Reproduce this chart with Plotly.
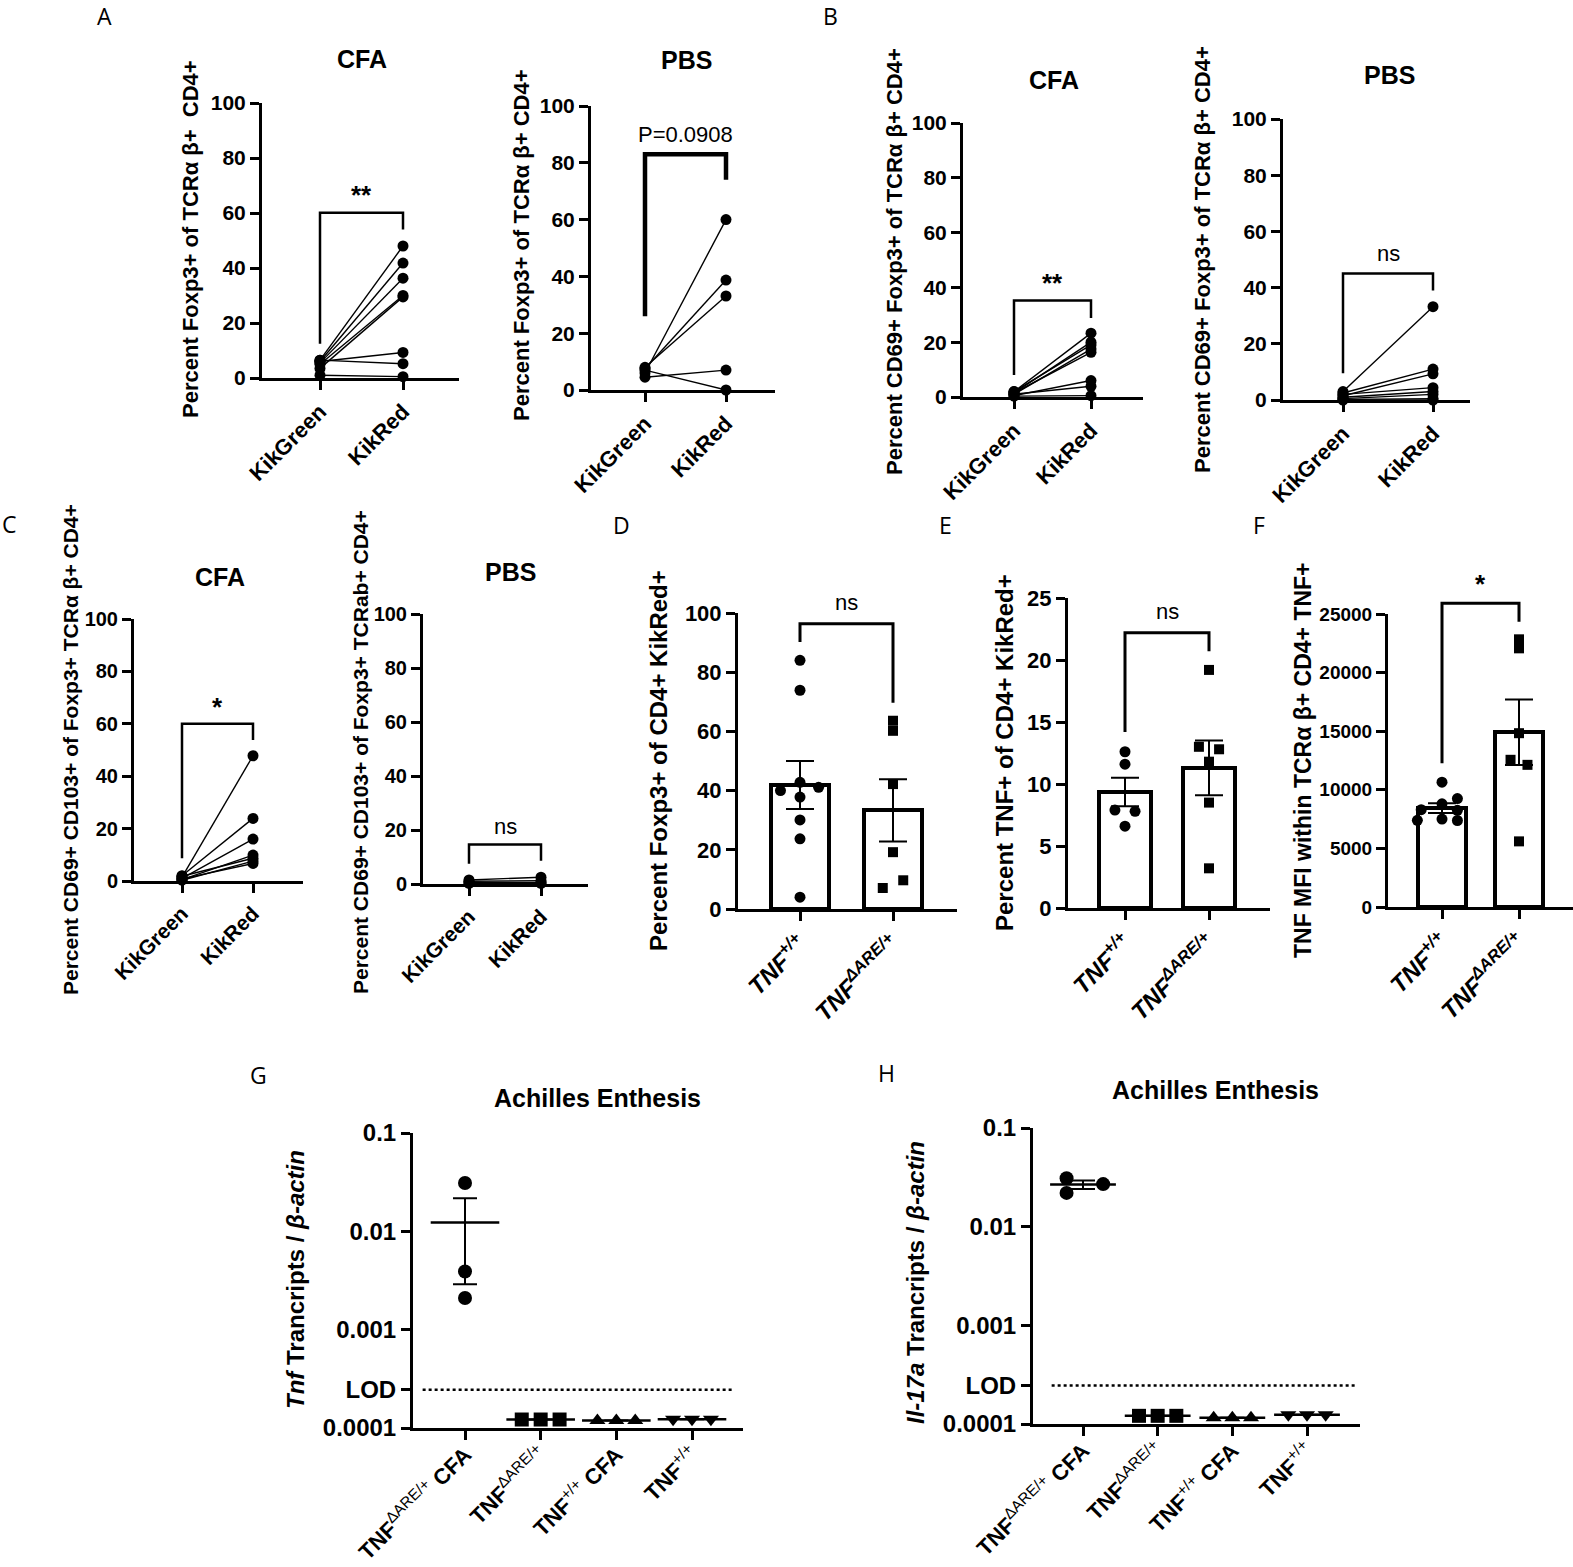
import plotly.graph_objects as go

W, H = 1573, 1567
FONT = "Liberation Sans"

# ---------------- data ----------------
pair_cats = ["KikGreen", "KikRed"]

# A: Percent Foxp3+ of TCRab+ CD4+
a_cfa_green = [6.5, 6.0, 5.5, 5.0, 3.5, 6.0, 6.5, 1.0]
a_cfa_red = [48.0, 41.8, 36.3, 30.0, 29.5, 9.3, 5.2, 0.5]
a_pbs_green = [6.0, 7.5, 8.0, 4.5, 7.0]
a_pbs_red = [60.0, 38.7, 33.1, 7.0, 0.0]

# B: Percent CD69+ Foxp3+ of TCRab+ CD4+
b_cfa_green = [2.0, 1.5, 2.0, 1.0, 1.5, 0.5, 1.0, 0.3]
b_cfa_red = [23.3, 20.0, 19.0, 17.5, 16.3, 6.0, 3.9, 0.5]
b_pbs_green = [3.0, 2.5, 1.5, 2.0, 1.0, 0.5, 0.2, 0.0]
b_pbs_red = [33.2, 11.0, 9.3, 4.4, 3.0, 2.0, 0.5, 0.0]

# C: Percent CD69+ CD103+ of Foxp3+ TCRab+ CD4+
c_cfa_green = [1.5, 2.0, 1.0, 0.5, 1.8, 0.3, 0.8]
c_cfa_red = [47.8, 23.9, 16.0, 9.9, 8.7, 7.6, 6.7]
c_pbs_green = [1.5, 1.0, 0.5, 0.2]
c_pbs_red = [2.5, 1.2, 0.5, 0.2]

bar_cats = ["<i>TNF<sup>+/+</sup></i>", "<i>TNF<sup>ΔARE/+</sup></i>"]

# D: Percent Foxp3+ of CD4+ KikRed+
d_wt = [84.0, 73.9, 40.0, 42.8, 41.1, 37.8, 30.1, 23.7, 4.0]
d_wt_jit = [0, 0, -0.21, 0, 0.2, 0, 0, 0, 0]
d_are = [63.6, 60.2, 42.2, 19.2, 9.7, 7.1]
d_are_jit = [0, 0, 0, 0, 0.11, -0.11]
d_mean = [41.9, 33.3]
d_sem = [8.1, 10.5]

# E: Percent TNF+ of CD4+ KikRed+
e_wt = [12.6, 11.6, 7.9, 7.8, 6.6]
e_wt_jit = [0, 0, -0.12, 0.12, 0]
e_are = [19.2, 13.0, 12.8, 11.8, 8.5, 3.2]
e_are_jit = [0, -0.12, 0.12, 0, 0, 0]
e_mean = [9.35, 11.3]
e_sem = [1.15, 2.2]

# F: TNF MFI within TCRab+ CD4+ TNF+
f_wt = [10650, 9250, 8800, 8300, 8250, 7400, 7500, 7380]
f_wt_jit = [0, 0.2, 0, -0.27, 0.2, -0.32, 0, 0.2]
f_are = [22840, 22070, 14830, 12560, 12130, 5600]
f_are_jit = [0, 0, 0, -0.11, 0.11, 0]
f_mean = [8440, 14915]
f_sem = [420, 2800]

# G / H: transcripts relative to beta-actin (log scale)
gh_cats = [
    "TNF<sup><span style='font-weight:normal'>ΔARE/+</span></sup> CFA",
    "TNF<sup><span style='font-weight:normal'>ΔARE/+</span></sup>",
    "TNF<sup><span style='font-weight:normal'>+/+</span></sup> CFA",
    "TNF<sup><span style='font-weight:normal'>+/+</span></sup>",
]
lod = 2.45e-4
g_are_cfa = [0.031, 0.0039, 0.0021]
g_are = [1.22e-4, 1.22e-4, 1.22e-4]
g_wt_cfa = [1.19e-4, 1.19e-4, 1.19e-4]
g_wt = [1.23e-4, 1.23e-4, 1.23e-4]
g_mean = [0.0123, 1.22e-4, 1.19e-4, 1.23e-4]
g_sem = [0.0094, 0, 0, 0]

h_are_cfa = [0.031, 0.022, 0.027]
h_are_cfa_jit = [-0.22, -0.22, 0.27]
h_are = [1.21e-4, 1.21e-4, 1.21e-4]
h_wt_cfa = [1.16e-4, 1.16e-4, 1.16e-4]
h_wt = [1.24e-4, 1.24e-4, 1.24e-4]
h_mean = [0.0267, 1.21e-4, 1.16e-4, 1.24e-4]
h_sem = [0.0026, 0, 0, 0]
side_jit = [-0.25, 0, 0.25]

# ---------------- figure ----------------
fig = go.Figure()
axes = {}


def make_panel(key, n, box, cat_px, yrange, tickvals, ticktext, xtext,
               ytype="linear", ysize=21, xsize=22, xstand=0):
    # box = (left px, top px, right px, bottom px) of the plotting area
    x0, yt, x1, yb = box
    step = (cat_px[-1] - cat_px[0]) / (len(cat_px) - 1)
    xr = [(x0 - cat_px[0]) / step, (x1 - cat_px[0]) / step]
    xdom = [x0 / W, min(x1 / W, 1.0)]
    ydom = [1 - yb / H, 1 - yt / H]
    sfx = "" if n == 1 else str(n)
    common = dict(showline=True, linecolor="black", linewidth=3, ticks="outside",
                  ticklen=9, tickwidth=3, tickcolor="black", showgrid=False,
                  zeroline=False, automargin=False)
    fig.layout["xaxis" + sfx] = dict(
        domain=xdom, range=xr, anchor="y" + sfx, tickmode="array",
        tickvals=list(range(len(xtext))), ticktext=xtext, tickangle=-45,
        ticklabelstandoff=xstand,
        tickfont=dict(family=FONT, size=xsize, color="black", weight="bold"), **common)
    fig.layout["yaxis" + sfx] = dict(
        domain=ydom, range=yrange, type=ytype, anchor="x" + sfx, tickmode="array",
        tickvals=tickvals, ticktext=ticktext,
        tickfont=dict(family=FONT, size=ysize, color="black", weight="bold"), **common)
    axes[key] = dict(x="x" + sfx, y="y" + sfx, ydom=ydom, yr=yrange)


def ypaper(key, v):
    a = axes[key]
    return a["ydom"][0] + (v - a["yr"][0]) / (a["yr"][1] - a["yr"][0]) * (a["ydom"][1] - a["ydom"][0])


def bracket(key, left, top, right, text, text_y, width=2.5, bold=False, size=22):
    a = axes[key]
    path = "M 0,{l} L 0,{t} L 1,{t} L 1,{r}".format(
        l=ypaper(key, left), t=ypaper(key, top), r=ypaper(key, right))
    fig.add_shape(type="path", path=path, xref=a["x"], yref="paper",
                  line=dict(color="black", width=width))
    fig.add_annotation(x=0.5, y=ypaper(key, text_y), xref=a["x"], yref="paper",
                       text=text, showarrow=False, yanchor="middle",
                       font=dict(family=FONT, size=size, color="black",
                                 weight="bold" if bold else "normal"))


def paired(key, green, red):
    a = axes[key]
    xs, ys = [], []
    for g, r in zip(green, red):
        xs += [0, 1, None]
        ys += [g, r, None]
    fig.add_trace(go.Scatter(x=xs, y=ys, mode="lines+markers", xaxis=a["x"], yaxis=a["y"],
                             line=dict(color="black", width=1.4),
                             marker=dict(size=11, color="black"), cliponaxis=False))


def bars(key, means, sems, wt, wt_jit, are, are_jit):
    a = axes[key]
    fig.add_trace(go.Bar(x=[0, 1], y=means, width=0.63, xaxis=a["x"], yaxis=a["y"],
                         marker=dict(color="white", line=dict(color="black", width=4)),
                         error_y=dict(type="data", array=sems, color="black",
                                      thickness=2, width=14)))
    fig.add_trace(go.Scatter(x=[0 + j for j in wt_jit], y=wt, mode="markers",
                             xaxis=a["x"], yaxis=a["y"], cliponaxis=False,
                             marker=dict(symbol="circle", size=11, color="black")))
    fig.add_trace(go.Scatter(x=[1 + j for j in are_jit], y=are, mode="markers",
                             xaxis=a["x"], yaxis=a["y"], cliponaxis=False,
                             marker=dict(symbol="square", size=10, color="black")))


ticks100 = [0, 20, 40, 60, 80, 100]
lbl100 = [str(t) for t in ticks100]

make_panel("A1", 1, (262, 103, 459, 378), [320, 403], [0, 100], ticks100, lbl100, pair_cats)
make_panel("A2", 2, (591, 106, 775, 390), [645, 726], [0, 100], ticks100, lbl100, pair_cats)
make_panel("B1", 3, (963, 123, 1143, 397), [1014, 1091], [0, 100], ticks100, lbl100, pair_cats)
make_panel("B2", 4, (1283, 119, 1470, 400), [1343, 1433], [0, 100], ticks100, lbl100, pair_cats)
make_panel("C1", 5, (134, 619, 303, 881), [182, 253], [0, 100], ticks100, lbl100, pair_cats,
           ysize=20, xsize=21)
make_panel("C2", 6, (423, 614, 588, 884), [469, 541], [0, 100], ticks100, lbl100, pair_cats,
           ysize=20, xsize=21)
make_panel("D", 7, (738, 613, 957, 909), [800, 893], [0, 100], ticks100, lbl100, bar_cats,
           ysize=22, xsize=24)
make_panel("E", 8, (1068, 598, 1270, 908), [1125, 1209], [0, 25], [0, 5, 10, 15, 20, 25],
           ["0", "5", "10", "15", "20", "25"], bar_cats, ysize=22, xsize=24)
make_panel("F", 9, (1388, 614, 1573, 907), [1442, 1519], [0, 25000],
           [0, 5000, 10000, 15000, 20000, 25000],
           ["0", "5000", "10000", "15000", "20000", "25000"], bar_cats, ysize=19, xsize=24)
log_vals = [1e-4, lod, 1e-3, 1e-2, 1e-1]
log_text = ["0.0001", "LOD", "0.001", "0.01", "0.1"]
make_panel("G", 10, (413, 1133, 743, 1428), [465, 541, 617, 692], [-4, -1], log_vals, log_text,
           gh_cats, ytype="log", ysize=24, xsize=22, xstand=-7)
make_panel("H", 11, (1033, 1128, 1360, 1424), [1083, 1158, 1233, 1307], [-4, -1], log_vals,
           log_text, gh_cats, ytype="log", ysize=24, xsize=22, xstand=-7)

# paired plots
paired("A1", a_cfa_green, a_cfa_red)
paired("A2", a_pbs_green, a_pbs_red)
paired("B1", b_cfa_green, b_cfa_red)
paired("B2", b_pbs_green, b_pbs_red)
paired("C1", c_cfa_green, c_cfa_red)
paired("C2", c_pbs_green, c_pbs_red)

bracket("A1", 12.5, 60.1, 54, "**", 66.6, bold=True, size=26)
bracket("A2", 26, 83, 74, "P=0.0908", 90, width=4.5, size=22)
bracket("B1", 8, 35.2, 28.8, "**", 41.7, bold=True, size=26)
bracket("B2", 9.5, 45, 39, "ns", 52, size=22)
bracket("C1", 8.7, 60, 53.8, "*", 66.5, bold=True, size=26)
bracket("C2", 7.5, 14.6, 8.6, "ns", 21.4, size=22)

# bar plots
bars("D", d_mean, d_sem, d_wt, d_wt_jit, d_are, d_are_jit)
bars("E", e_mean, e_sem, e_wt, e_wt_jit, e_are, e_are_jit)
bars("F", f_mean, f_sem, f_wt, f_wt_jit, f_are, f_are_jit)
bracket("D", 90.2, 96.4, 69.7, "ns", 103.4, width=3, size=22)
bracket("E", 14.2, 22.2, 20.7, "ns", 23.9, width=3, size=22)
bracket("F", 12273, 25909, 24347, "*", 27600, width=3, bold=True, size=26)


# log plots
def log_panel(key, cfa_vals, cfa_jit, are, wt_cfa, wt, means, sems, mean_w, lod_x):
    a = axes[key]
    fig.add_trace(go.Scatter(x=lod_x, y=[lod, lod], mode="lines", xaxis=a["x"], yaxis=a["y"],
                             line=dict(color="black", width=2.5, dash="dot")))
    fig.add_trace(go.Scatter(x=[0, 1, 2, 3], y=means, mode="markers", xaxis=a["x"], yaxis=a["y"],
                             cliponaxis=False,
                             marker=dict(symbol="line-ew", size=mean_w,
                                         line=dict(color="black", width=2.5)),
                             error_y=dict(type="data", array=sems, color="black",
                                          thickness=2, width=12)))
    fig.add_trace(go.Scatter(x=[0 + j for j in cfa_jit], y=cfa_vals, mode="markers",
                             xaxis=a["x"], yaxis=a["y"], cliponaxis=False,
                             marker=dict(symbol="circle", size=14, color="black")))
    for i, (vals, sym) in enumerate([(are, "square"), (wt_cfa, "triangle-up"),
                                     (wt, "triangle-down")]):
        fig.add_trace(go.Scatter(x=[i + 1 + j for j in side_jit], y=vals, mode="markers",
                                 xaxis=a["x"], yaxis=a["y"], cliponaxis=False,
                                 marker=dict(symbol=sym, size=14, color="black")))


log_panel("G", g_are_cfa, [0, 0, 0], g_are, g_wt_cfa, g_wt, g_mean, g_sem, 49, [-0.56, 3.55])
log_panel("H", h_are_cfa, h_are_cfa_jit, h_are, h_wt_cfa, h_wt, h_mean, h_sem, 47, [-0.42, 3.66])


# ---------------- text ----------------
def label(x, y, text, size, weight="bold", angle=0, family=FONT):
    fig.add_annotation(x=x / W, y=1 - y / H, xref="paper", yref="paper", text=text,
                       showarrow=False, textangle=angle, xanchor="center", yanchor="middle",
                       font=dict(family=family, size=size, color="black", weight=weight))


for x, y, t in [(362, 59, "CFA"), (686, 60, "PBS"), (1054, 80, "CFA"), (1389, 75, "PBS"),
                (220, 577, "CFA"), (510, 572, "PBS"),
                (597, 1098, "Achilles Enthesis"), (1215, 1090, "Achilles Enthesis")]:
    label(x, y, t, 25)

ytitles = [
    (190, 239, "Percent Foxp3+ of TCRα β+  CD4+", 22),
    (521, 245, "Percent Foxp3+ of TCRα β+ CD4+", 22),
    (894, 261, "Percent CD69+ Foxp3+ of TCRα β+ CD4+", 22),
    (1203, 260, "Percent CD69+ Foxp3+ of TCRα β+ CD4+", 22),
    (70, 750, "Percent CD69+ CD103+ of Foxp3+ TCRα β+ CD4+", 21),
    (360, 752, "Percent CD69+ CD103+ of Foxp3+ TCRab+ CD4+", 21),
    (658, 761, "Percent Foxp3+ of CD4+ KikRed+", 24),
    (1004, 753, "Percent TNF+ of CD4+ KikRed+", 24),
    (1303, 760, "TNF MFI within TCRα β+ CD4+ TNF+", 23),
    (295, 1280, "<i>Tnf</i> Trancripts / <i>β-actin</i>", 24),
    (915, 1283, "<i>Il-17a</i> Trancripts / <i>β-actin</i>", 24),
]
for x, y, t, s in ytitles:
    label(x, y, t, s, angle=-90)

for x, y, t in [(105, 16, "A"), (830, 16, "B"), (9, 524, "C"), (621, 525, "D"),
                (945, 525, "E"), (1259, 525, "F"), (258, 1075, "G"), (886, 1073, "H")]:
    label(x, y, t, 23, weight="normal", family="Open Sans")

fig.update_layout(width=W, height=H, margin=dict(l=0, r=0, t=0, b=0, autoexpand=False),
                  paper_bgcolor="white", plot_bgcolor="white", showlegend=False,
                  bargap=0)

fig.write_html("out.html", config={"displayModeBar": False},
               post_script="document.body.style.margin='0';")
